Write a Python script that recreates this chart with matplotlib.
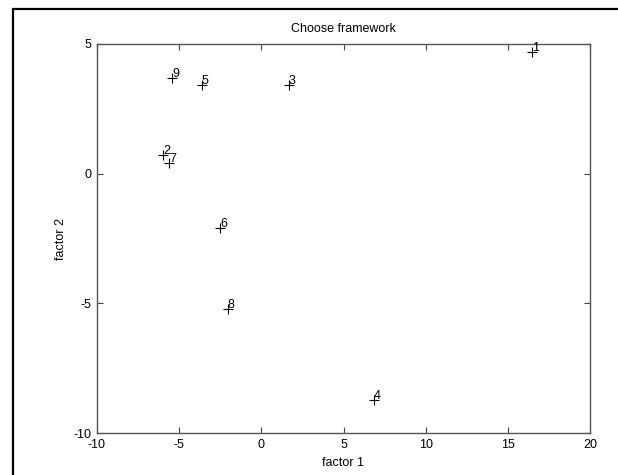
import numpy as np
import matplotlib.pyplot as plt
from matplotlib.patches import Rectangle

# factor scores for each framework
labels = ["1", "2", "3", "4", "5", "6", "7", "8", "9"]
factor1 = [16.5, -5.98, 1.68, 6.86, -3.61, -2.52, -5.62, -2.03, -5.44]
factor2 = [4.69, 0.72, 3.42, -8.73, 3.42, -2.09, 0.41, -5.22, 3.69]

xticks = [-10, -5, 0, 5, 10, 15, 20]
yticks = [-10, -5, 0, 5]

plt.rcParams['font.family'] = ['Liberation Sans', 'DejaVu Sans']
plt.rcParams['font.size'] = 9
plt.rcParams['axes.unicode_minus'] = False

W, H = 618, 475
fig = plt.figure(figsize=(W / 100, H / 100), dpi=100)
ax = fig.add_axes([97 / W, 1 - 433 / H, (590 - 97) / W, (433 - 44) / H])

ax.plot(factor1, factor2, '+', color='black', markersize=7, markeredgewidth=0.8)
for lab, x, y in zip(labels, factor1, factor2):
    ax.annotate(lab, (x, y), xytext=(0, 3), textcoords='offset points',
                ha='left', va='center', fontsize=9)

ax.set_xlim(-10, 20)
ax.set_ylim(-10, 5)
ax.set_xticks(xticks)
ax.set_yticks(yticks)
ax.tick_params(direction='in', length=4, width=0.8, top=True, right=True,
               color='#444444', pad=4)
for s in ax.spines.values():
    s.set_color('#555555')
    s.set_linewidth(1.0)

ax.set_title("Choose framework", fontsize=9, pad=9)
ax.set_xlabel("factor 1", labelpad=5)
ax.set_ylabel("factor 2", labelpad=5)

# black screenshot frame around the figure
fig.patches.append(Rectangle((13 / W, -0.1), 1.2, 1 - 9 / H + 0.1,
                             transform=fig.transFigure, fill=False,
                             edgecolor='black', linewidth=1.6))

fig.savefig("out.png", dpi=100)
